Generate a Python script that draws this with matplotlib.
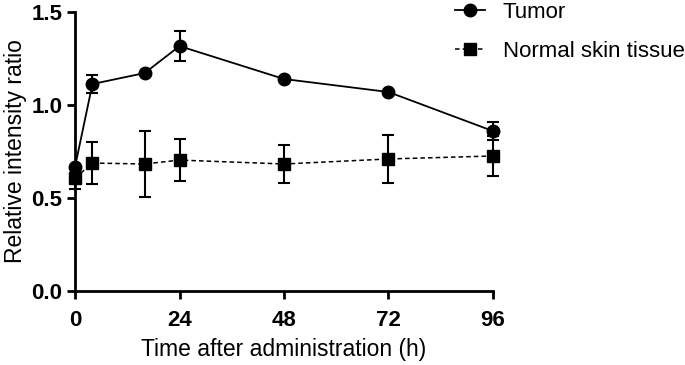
import matplotlib.pyplot as plt
from matplotlib.lines import Line2D

hours = [0, 4, 16, 24, 48, 72, 96]
tumor = [0.667, 1.113, 1.172, 1.317, 1.14, 1.07, 0.86]
tumor_err = [0.0, 0.048, 0.0, 0.08, 0.0, 0.0, 0.05]
normal = [0.607, 0.688, 0.683, 0.704, 0.683, 0.71, 0.726]
normal_err = [0.06, 0.115, 0.175, 0.112, 0.103, 0.128, 0.11]

plt.rcParams['font.family'] = ['Liberation Sans', 'DejaVu Sans']

fig = plt.figure(figsize=(6.85, 3.65), dpi=100)
ax = fig.add_axes([0.1095, 0.2027, 0.6102, 0.7643])

dash = (0, (3, 2))
ax.errorbar(hours, tumor, yerr=tumor_err, color='black', marker='o', markersize=9,
            linestyle='-', linewidth=1.3, capsize=4.5, elinewidth=1.5, capthick=1.5,
            clip_on=False, zorder=3)
ax.errorbar(hours, normal, yerr=normal_err, color='black', marker='s', markersize=8.5,
            linestyle=dash, linewidth=1.1, capsize=4.5, elinewidth=1.5, capthick=1.5,
            clip_on=False, zorder=3)

ax.set_xlim(0, 96)
ax.set_ylim(0, 1.5)
ax.set_xticks([0, 24, 48, 72, 96])
ax.set_yticks([0.0, 0.5, 1.0, 1.5])
ax.set_yticklabels(['0.0', '0.5', '1.0', '1.5'])

for side in ['top', 'right']:
    ax.spines[side].set_visible(False)
for side in ['left', 'bottom']:
    ax.spines[side].set_linewidth(2)
ax.tick_params(axis='both', which='major', width=2, length=6, direction='out')
ax.tick_params(axis='x', pad=8)
ax.tick_params(axis='y', pad=3)
for lab in ax.get_xticklabels() + ax.get_yticklabels():
    lab.set_fontweight('bold')
    lab.set_fontsize(16)

ax.set_xlabel('Time after administration (h)', fontsize=16.5, labelpad=5)
ax.set_ylabel('Relative intensity ratio', fontsize=16.5, labelpad=3)

handles = [
    Line2D([], [], color='black', marker='o', markersize=9, linestyle='-', linewidth=1.3),
    Line2D([], [], color='black', marker='s', markersize=8.5, linestyle=dash, linewidth=1.1),
]
fig.legend(handles, ['Tumor', 'Normal skin tissue'], loc='upper left',
           bbox_to_anchor=(455 / 685, 0.995), frameon=False, fontsize=16,
           borderaxespad=0, borderpad=0, handlelength=1.35, labelspacing=0.8,
           handletextpad=0.8)

fig.savefig('out.png', dpi=100)
